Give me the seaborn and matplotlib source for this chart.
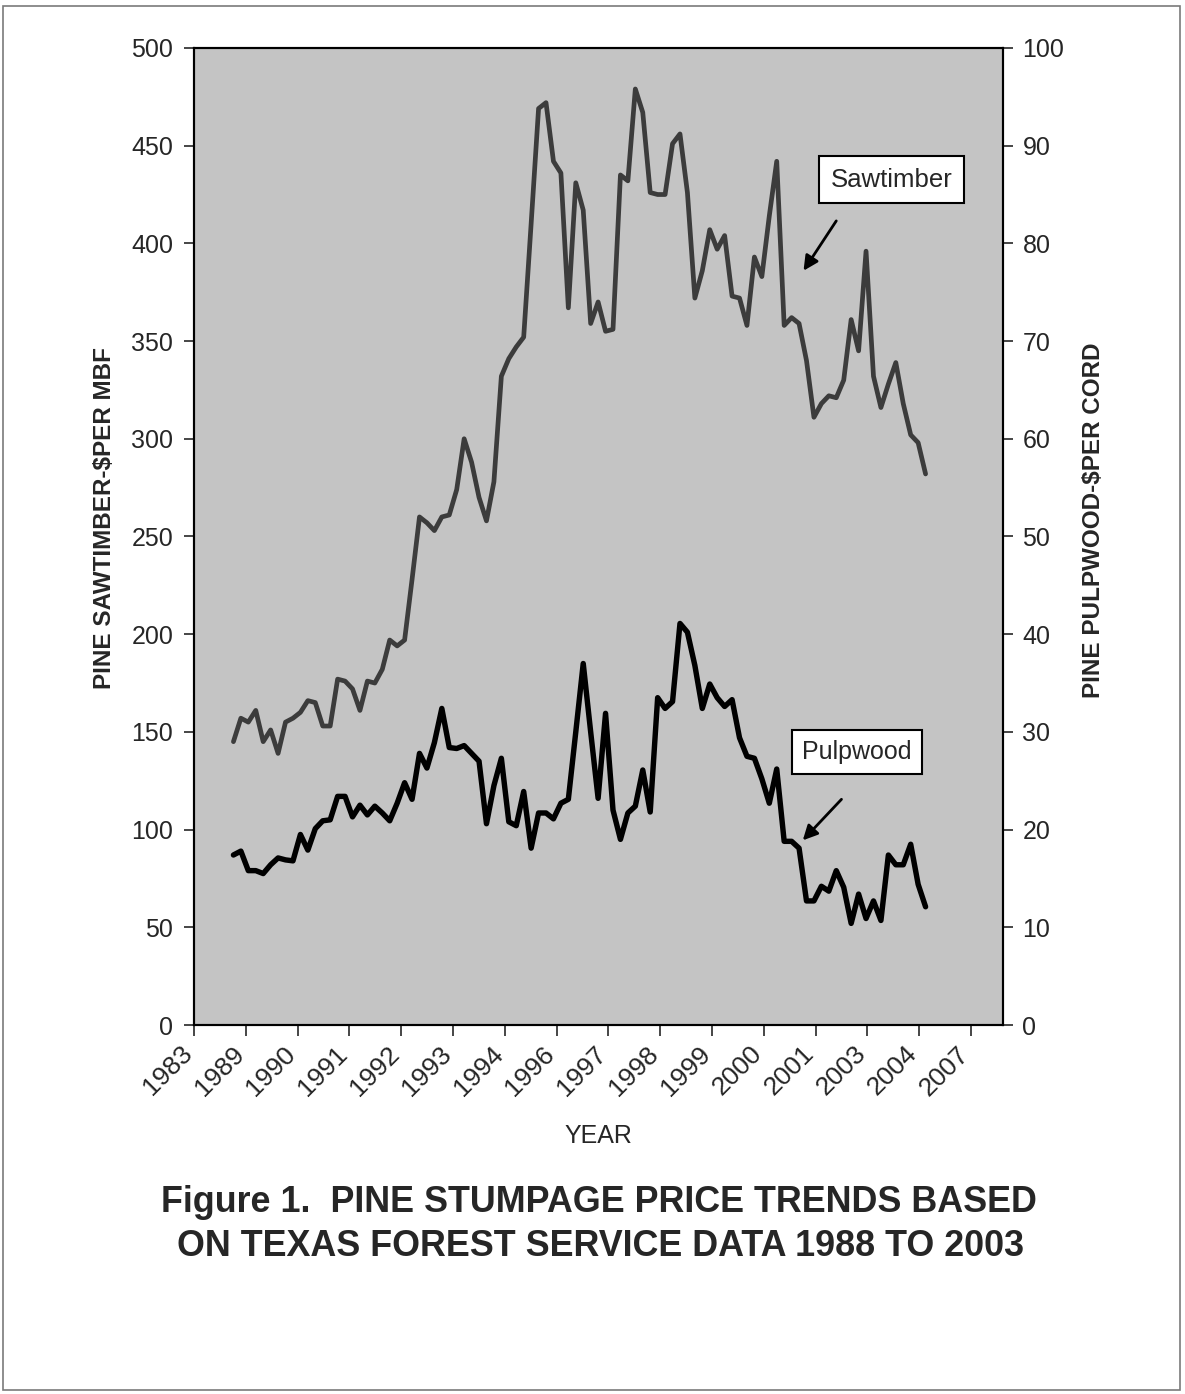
import numpy as np
import matplotlib.pyplot as plt
import seaborn as sns
from matplotlib.patches import Rectangle
from matplotlib.transforms import ScaledTranslation

# %% --------------------------------------------------------------------
# Data (bimonthly stumpage prices)

# pine sawtimber, $ per MBF (left axis)
sawtimber = [145, 157, 155, 161, 145, 151, 139, 155, 157, 160,
             166, 165, 153, 153, 177, 176, 172, 161, 176, 175,
             182, 197, 194, 197, 228, 260, 257, 253, 260, 261,
             274, 300, 288, 270, 258, 278, 332, 341, 347, 352,
             410, 469, 472, 442, 436, 367, 431, 417, 359, 370,
             355, 356, 435, 432, 479, 467, 426, 425, 425, 451,
             456, 426, 372, 386, 407, 397, 404, 373, 372, 358,
             393, 383, 414, 442, 358, 362, 359, 340, 311, 318,
             322, 321, 330, 361, 345, 396, 332, 316, 328, 339,
             318, 302, 298, 282]

# pine pulpwood, $ per cord (right axis)
pulpwood = [17.4, 17.8, 15.8, 15.8, 15.5, 16.4, 17.1, 16.9, 16.8, 19.5,
            17.9, 20.1, 20.9, 21.0, 23.4, 23.4, 21.3, 22.5, 21.5, 22.4,
            21.7, 20.9, 22.7, 24.8, 23.1, 27.8, 26.3, 28.9, 32.4, 28.4,
            28.3, 28.6, 27.8, 27.0, 20.6, 24.5, 27.3, 20.8, 20.4, 23.9,
            18.1, 21.7, 21.7, 21.1, 22.7, 23.1, 30.0, 37.0, 30.0, 23.2,
            31.9, 22.0, 19.0, 21.7, 22.4, 26.1, 21.8, 33.5, 32.4, 33.1,
            41.1, 40.2, 36.8, 32.4, 34.9, 33.5, 32.6, 33.3, 29.4, 27.5,
            27.3, 25.2, 22.7, 26.2, 18.8, 18.8, 18.1, 12.7, 12.7, 14.2,
            13.7, 15.8, 14.1, 10.4, 13.4, 10.9, 12.7, 10.7, 17.4, 16.4,
            16.4, 18.5, 14.4, 12.1]

# x-axis labels as printed on the original (Excel) chart
year_labels = ['1983', '1989', '1990', '1991', '1992', '1993', '1994', '1996',
               '1997', '1998', '1999', '2000', '2001', '2003', '2004', '2007']

period = np.arange(len(sawtimber))

# %% --------------------------------------------------------------------
# Plot

sns.set_style('ticks')
plt.rcParams['font.family'] = ['Liberation Sans', 'DejaVu Sans']

fig = plt.figure(figsize=(11.85, 13.94), dpi=100)
ax = fig.add_axes([0.1637, 0.2647, 0.6827, 0.7009])
ax.set_facecolor('#c4c4c4')

sns.lineplot(x=period, y=sawtimber, ax=ax, color='#3c3c3c', linewidth=3.4)
ax2 = ax.twinx()
sns.lineplot(x=period, y=pulpwood, ax=ax2, color='black', linewidth=3.9)

# axes limits / ticks
x_left, tick_step = -5.3, 6.96
ax.set_xlim(x_left, 103.4)
ax.set_ylim(0, 500)
ax2.set_ylim(0, 100)
ax.set_yticks(range(0, 501, 50))
ax2.set_yticks(range(0, 101, 10))
ax.set_xticks(x_left + tick_step * np.arange(len(year_labels)))
ax.set_xticklabels(year_labels, rotation=45, ha='right', va='center',
                   rotation_mode='anchor')

ax.tick_params(axis='y', direction='out', length=7, width=1.2, labelsize=18, pad=8)
ax.tick_params(axis='x', direction='out', length=8, width=1.2, labelsize=19, pad=10)
ax2.tick_params(axis='y', direction='out', length=7, width=1.2, labelsize=18, pad=7)

# nudge rotated year labels slightly left so they end under their tick
shift = ScaledTranslation(-4 / 72, 0, fig.dpi_scale_trans)
for lbl in ax.get_xticklabels():
    lbl.set_transform(lbl.get_transform() + shift)

for a in (ax, ax2):
    for s in a.spines.values():
        s.set_color('black')
        s.set_linewidth(1.5)

ax.set_xlabel('YEAR', fontsize=18)
ax.xaxis.set_label_coords(0.5, -0.101)
ax.set_ylabel('')
ax2.set_ylabel('')

fig.text(0.0886, 0.6284, r'PINE SAWTIMBER-\$PER MBF', rotation=90,
         ha='center', va='center', fontsize=17.5, fontweight='bold')
fig.text(0.9224, 0.627, r'PINE PULPWOOD-\$PER CORD', rotation=90,
         ha='center', va='center', fontsize=17.5, fontweight='bold')

# labelled arrows
box = dict(boxstyle='square,pad=0.45', fc='white', ec='black', lw=1.5)
arrow = dict(arrowstyle='-|>', color='black', lw=2, mutation_scale=22,
             shrinkA=0, shrinkB=0)
ax2.text(88.4, 86.5, 'Sawtimber', fontsize=18.5, ha='center', va='center', bbox=box)
ax2.annotate('', xy=(76.6, 77.2), xytext=(81.0, 82.3), arrowprops=arrow)
ax2.text(83.8, 27.9, 'Pulpwood', fontsize=18, ha='center', va='center',
         bbox=dict(boxstyle='square,pad=0.4', fc='white', ec='black', lw=1.5))
ax2.annotate('', xy=(76.5, 18.9), xytext=(81.7, 23.1), arrowprops=arrow)

# caption
fig.text(0.5055, 1 - 1203 / 1394, 'Figure 1.  PINE STUMPAGE PRICE TRENDS BASED',
         ha='center', va='center', fontsize=25.8, fontweight='bold')
fig.text(0.5067, 1 - 1246 / 1394, 'ON TEXAS FOREST SERVICE DATA 1988 TO 2003',
         ha='center', va='center', fontsize=25.8, fontweight='bold')

# thin page frame
fig.patches.append(Rectangle((3 / 1185, 4 / 1394), 1177 / 1185, 1384 / 1394,
                             transform=fig.transFigure, fill=False,
                             ec='#7a7a7a', lw=1.2))

fig.savefig('out.png', dpi=100)
